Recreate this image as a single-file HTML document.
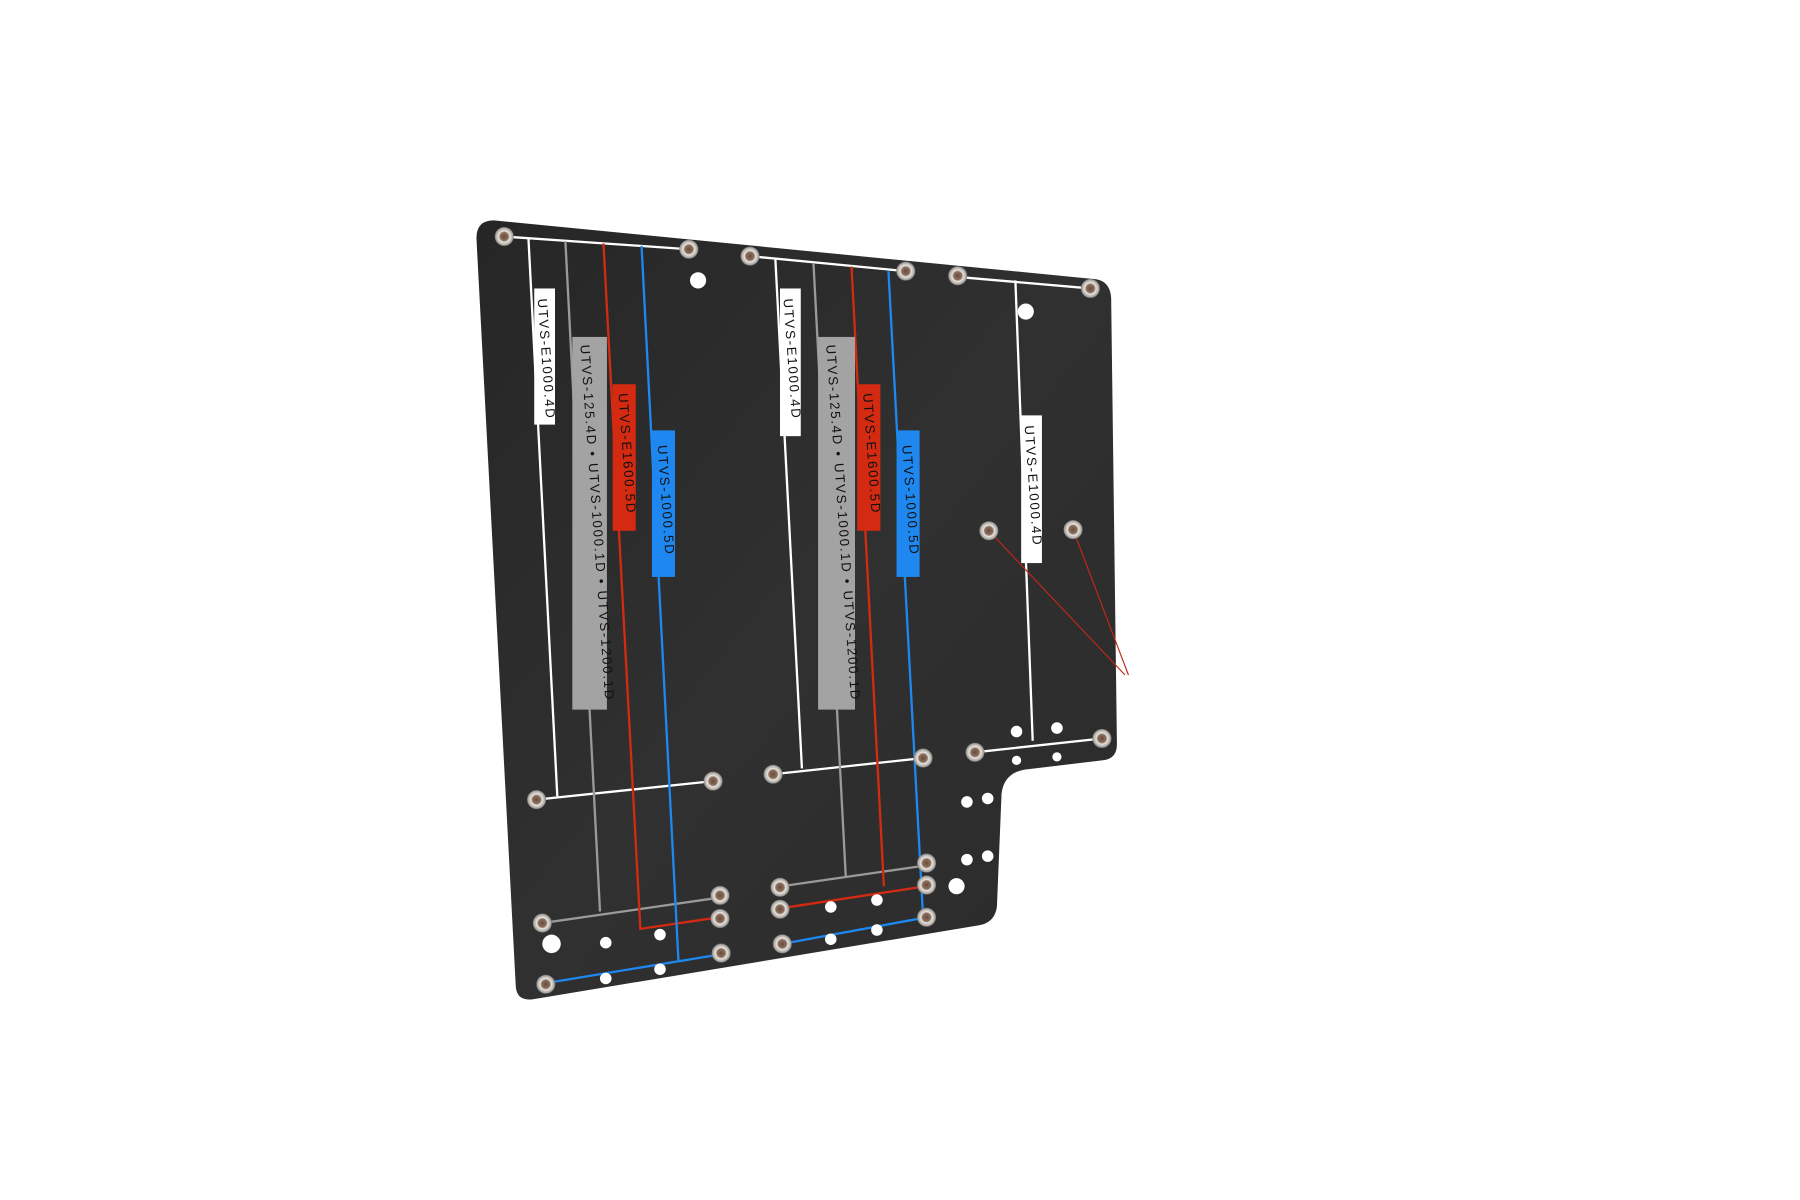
<!DOCTYPE html>
<html><head><meta charset="utf-8"><style>
html,body{margin:0;padding:0;background:#fff;width:1800px;height:1200px;overflow:hidden}
svg{display:block}
text{font-family:"Liberation Sans",sans-serif;font-size:11.5px;font-weight:normal;fill:#111;letter-spacing:1.5px}
</style></head><body>
<svg width="1800" height="1200" viewBox="0 0 1560 1040" xmlns="http://www.w3.org/2000/svg">
<defs>
<linearGradient id="pl" x1="0" y1="0" x2="1" y2="1">
<stop offset="0" stop-color="#262626"/><stop offset="0.5" stop-color="#303030"/><stop offset="1" stop-color="#2b2b2b"/>
</linearGradient>
<radialGradient id="sc"><stop offset="0" stop-color="#6b4a3a"/><stop offset="0.45" stop-color="#8a7060"/><stop offset="0.6" stop-color="#e8e4de"/><stop offset="1" stop-color="#9a9590"/></radialGradient>
</defs>
<path d="M428,191 L950,242 Q962,244 963,258 L968,645 Q968,658 955,659 L888,667 Q870,670 868,688 L864,786 Q862,800 848,802 L462,866 Q448,868 447,855 L413,208 Q412,191 428,191 Z" fill="url(#pl)"/>
<g fill="none" stroke-width="2">
<path d="M437,205 L597,216" stroke="#fff"/>
<path d="M458,207 L483,690 M465,693 L618,677" stroke="#fff"/>
<path d="M490,209 L520,790 M470,800 L623,778" stroke="#9a9a9a"/>
<path d="M523,211 L555,805 L623,795" stroke="#d42a12"/>
<path d="M556,213 L588,833 M473,852 L625,827" stroke="#1e88f0"/>
<path d="M650,222 L785,235" stroke="#fff"/>
<path d="M672,225 L695,666 M670,671 L800,657" stroke="#fff"/>
<path d="M705,228 L733,760 M678,768 L803,750" stroke="#9a9a9a"/>
<path d="M738,231 L766,768 M678,787 L803,768" stroke="#d42a12"/>
<path d="M770,235 L800,795 M678,818 L803,795" stroke="#1e88f0"/>
<path d="M830,240 L945,250" stroke="#fff"/>
<path d="M880,243 L895,642 M845,652 L955,640" stroke="#fff"/>
<path d="M857,460 L975,585 M930,459 L978,585" stroke="#c0281a" stroke-width="1"/>
</g>
<g>
<rect x="463" y="250" width="18" height="118" fill="#fff"/>
<text transform="translate(466,259) rotate(86)">UTVS-E1000.4D</text>
<rect x="496" y="292" width="30" height="323" fill="#a3a3a3"/>
<text transform="translate(503,299) rotate(86)">UTVS-125.4D • UTVS-1000.1D • UTVS-1200.1D</text>
<rect x="531" y="333" width="20" height="127" fill="#d42a12"/>
<text transform="translate(536,341) rotate(86)">UTVS-E1600.5D</text>
<rect x="565" y="373" width="20" height="127" fill="#1e88f0"/>
<text transform="translate(570,386) rotate(86)">UTVS-1000.5D</text>
<rect x="676" y="250" width="18" height="128" fill="#fff"/>
<text transform="translate(679,259) rotate(86)">UTVS-E1000.4D</text>
<rect x="709" y="292" width="32" height="323" fill="#a3a3a3"/>
<text transform="translate(716,299) rotate(86)">UTVS-125.4D • UTVS-1000.1D • UTVS-1200.1D</text>
<rect x="743" y="333" width="20" height="127" fill="#d42a12"/>
<text transform="translate(748,341) rotate(86)">UTVS-E1600.5D</text>
<rect x="777" y="373" width="20" height="127" fill="#1e88f0"/>
<text transform="translate(782,386) rotate(86)">UTVS-1000.5D</text>
<rect x="885" y="360" width="18" height="128" fill="#fff"/>
<text transform="translate(888,369) rotate(86)">UTVS-E1000.4D</text>
</g>
<g fill="#fff">
<circle cx="605" cy="243" r="7"/><circle cx="889" cy="270" r="7"/><circle cx="478" cy="818" r="8"/><circle cx="829" cy="768" r="7"/>
<circle cx="881" cy="634" r="5"/><circle cx="916" cy="631" r="5"/><circle cx="881" cy="659" r="4"/><circle cx="916" cy="656" r="4"/>
<circle cx="838" cy="695" r="5"/><circle cx="856" cy="692" r="5"/><circle cx="838" cy="745" r="5"/><circle cx="856" cy="742" r="5"/>
<circle cx="525" cy="817" r="5"/><circle cx="572" cy="810" r="5"/><circle cx="525" cy="848" r="5"/><circle cx="572" cy="840" r="5"/>
<circle cx="720" cy="786" r="5"/><circle cx="760" cy="780" r="5"/><circle cx="720" cy="814" r="5"/><circle cx="760" cy="806" r="5"/>
</g>
<g fill="url(#sc)" stroke="#777" stroke-width="0.5">
<circle cx="437" cy="205" r="8"/><circle cx="597" cy="216" r="8"/><circle cx="650" cy="222" r="8"/><circle cx="785" cy="235" r="8"/>
<circle cx="830" cy="239" r="8"/><circle cx="945" cy="250" r="8"/><circle cx="465" cy="693" r="8"/><circle cx="618" cy="677" r="8"/>
<circle cx="670" cy="671" r="8"/><circle cx="800" cy="657" r="8"/><circle cx="845" cy="652" r="8"/><circle cx="955" cy="640" r="8"/>
<circle cx="857" cy="460" r="8"/><circle cx="930" cy="459" r="8"/><circle cx="624" cy="776" r="8"/><circle cx="624" cy="796" r="8"/>
<circle cx="625" cy="826" r="8"/><circle cx="470" cy="800" r="8"/><circle cx="473" cy="853" r="8"/><circle cx="676" cy="769" r="8"/>
<circle cx="676" cy="788" r="8"/><circle cx="678" cy="818" r="8"/><circle cx="803" cy="748" r="8"/><circle cx="803" cy="767" r="8"/><circle cx="803" cy="795" r="8"/>
</g>
</svg>
</body></html>
